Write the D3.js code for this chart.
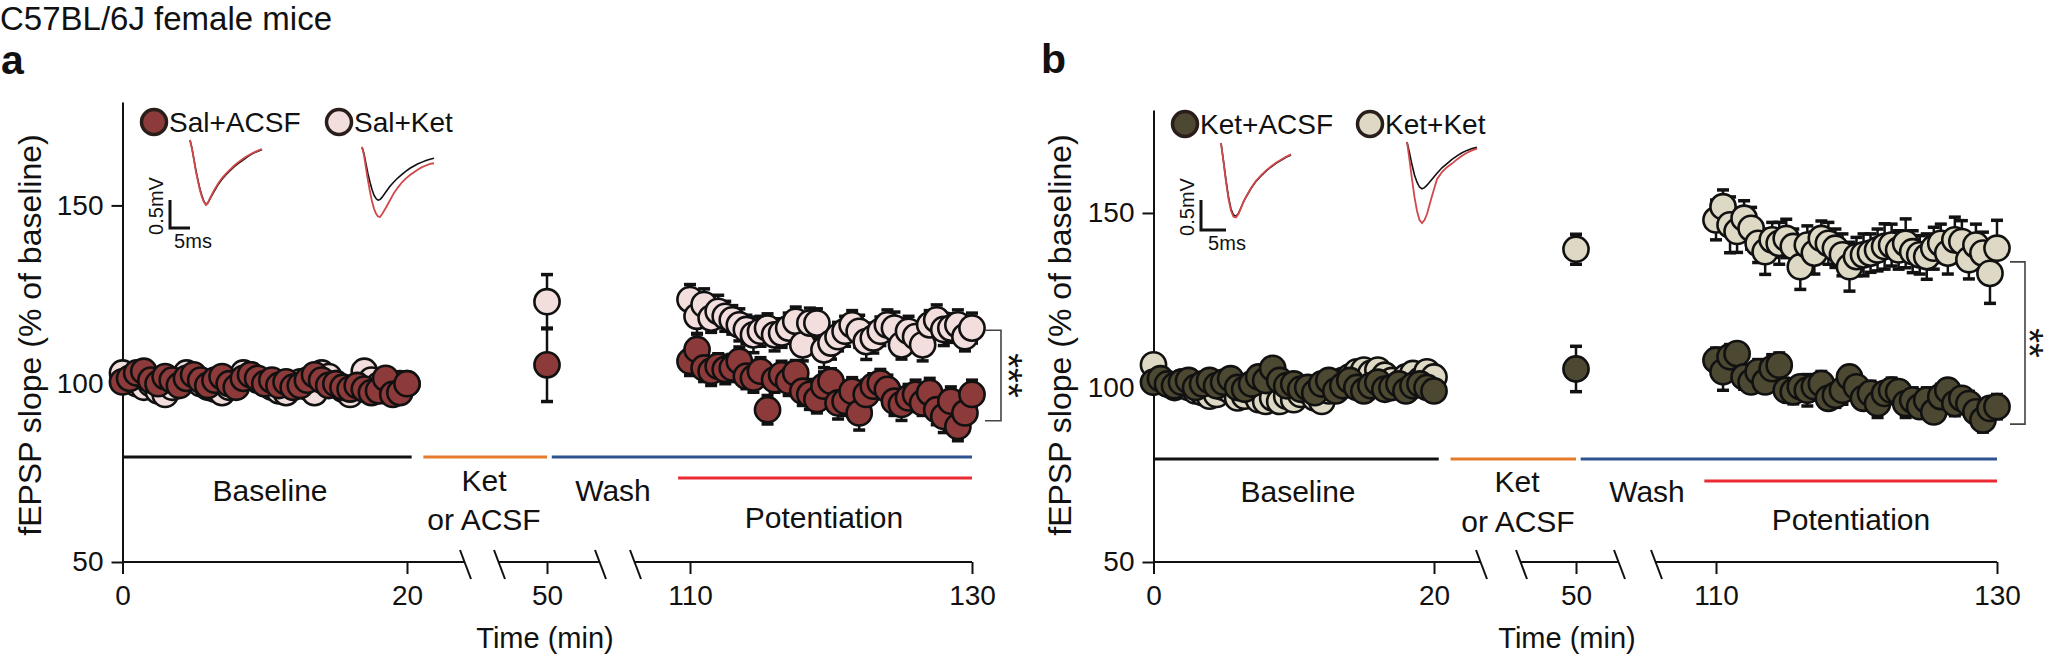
<!DOCTYPE html>
<html>
<head>
<meta charset="utf-8">
<script src="https://cdn.jsdelivr.net/npm/d3@7"></script>
<style>
  body { margin: 0; background: #fff; }
  svg { display: block; }
  text { font-family: "Liberation Sans", Arial, sans-serif; fill: #111; }
</style>
</head>
<body>
<div id="chart"></div>
<script>
// ---- data -------------------------------------------------------------
const xTicks = [0, 20, 50, 110, 130];
const yTicks = [50, 100, 150];

const baselineMin = [0, 0.5, 1, 1.5, 2, 2.5, 3, 3.5, 4, 4.5, 5, 5.5, 6, 6.5, 7, 7.5, 8, 8.5, 9, 9.5,
  10, 10.5, 11, 11.5, 12, 12.5, 13, 13.5, 14, 14.5, 15, 15.5, 16, 16.5, 17, 17.5, 18, 18.5, 19, 19.5, 20];
const drugMin = [50];
const potMin = [110, 110.5, 111, 111.5, 112, 112.5, 113, 113.5, 114, 114.5, 115, 115.5, 116, 116.5, 117,
  117.5, 118, 118.5, 119, 119.5, 120, 120.5, 121, 121.5, 122, 122.5, 123, 123.5, 124, 124.5, 125, 125.5,
  126, 126.5, 127, 127.5, 128, 128.5, 129, 129.5, 130];

// panel a
const salAcsfBase = [100.5, 101.5, 103, 103.5, 101, 100, 102, 101, 99.5, 101.5, 102.5, 101, 99.5, 101, 102,
  100, 99, 101.5, 102.5, 101.5, 100, 101, 99.5, 100.5, 99, 99.5, 101, 102.5, 101, 99.5, 100, 99, 98.5, 99.5,
  98.5, 97.5, 98, 101.5, 97, 97.5, 100];
const salKetBase = [103, 101, 100, 99, 100, 98, 97, 99, 101, 103, 102, 100, 99, 98.5, 97.5, 99, 101, 103,
  102.5, 101, 100, 99, 98, 97.5, 99, 100.5, 99, 97.5, 103, 102, 100, 98.5, 97, 99, 103.5, 101, 99.5, 98, 99,
  100, 100];
const salAcsfDrug = [105.3], salAcsfDrugSem = [10.3];
const salKetDrug = [123], salKetDrugSem = [7.6];
const salAcsfPot = [106.3, 109.6, 104.4, 103.5, 104.9, 104.0, 104.4, 106.3, 102.1, 101.6, 103.5, 92.7, 101.1,
  102.5, 100.7, 103.0, 97.9, 97.0, 95.6, 99.3, 100.7, 94.6, 95.1, 97.9, 91.8, 97.0, 99.3, 100.2, 98.4, 95.1,
  94.2, 96.0, 97.0, 94.6, 97.5, 92.7, 90.8, 95.1, 88.0, 91.8, 97.0];
const salAcsfPotSem = [4, 4.5, 3.8, 4, 3.5, 4, 3.8, 4, 3.5, 4, 3.8, 4, 3.5, 3.8, 4, 3.5, 4, 4.2, 3.8, 4, 3.5,
  4.5, 4, 3.8, 4.8, 4, 3.5, 3.8, 4, 4, 4.5, 3.8, 4, 3.5, 4, 4.2, 4.5, 4, 4, 4.5, 4];
const salKetPot = [123.6, 118.9, 122.2, 118.4, 120.3, 118.9, 117.9, 116.5, 115.2, 113.7, 114.7, 115.6, 113.7,
  114.2, 115.6, 117.5, 110.9, 117.0, 117.0, 109.5, 111.4, 113.2, 114.7, 116.5, 114.7, 111.8, 112.8, 114.7,
  116.5, 115.6, 110.9, 114.7, 113.2, 110.9, 116.5, 117.9, 115.2, 115.6, 116.5, 113.2, 115.6];
const salKetPotSem = [4.2, 5, 4.4, 4, 4.5, 4.2, 4, 4.5, 4, 5, 4.2, 4, 4.5, 4, 4.2, 4, 4.5, 4.2, 4, 5, 4.5, 4,
  4.2, 4, 4.5, 5, 4.2, 4, 4.2, 4.5, 4, 4.2, 4, 4.5, 4, 4.2, 4.5, 4, 4.2, 4, 4.2];

// panel b
const ketAcsfBase = [101.5, 102.5, 101, 100.5, 101.5, 102, 100, 101, 102, 100.5, 101.5, 102.5, 100, 99.5, 101,
  103, 102, 105.5, 102, 100.5, 101, 99.5, 100, 98.5, 101, 102, 99, 100.5, 102, 100, 99, 100.5, 101.5, 99.5,
  100, 101, 99, 100.5, 101, 100, 99];
const ketKetBase = [106.5, 102, 101, 100, 101.5, 100, 99, 98.5, 97.5, 98, 100, 99, 97, 97.5, 99, 96.5, 96, 97,
  96, 97.5, 96.5, 98, 99, 97, 96, 99, 101, 102, 103, 104.5, 105, 104, 105, 103.5, 102, 101, 103, 104, 102,
  104.5, 103];
const ketAcsfDrug = [105.3], ketAcsfDrugSem = [6.5];
const ketKetDrug = [139.6], ketKetDrugSem = [4.3];
const ketAcsfPot = [107.8, 104.5, 108.8, 109.7, 103.0, 101.6, 104.5, 101.6, 105.4, 106.4, 99.2, 98.8, 100.2,
  99.2, 100.2, 101.1, 96.9, 97.8, 99.2, 103.0, 100.2, 96.9, 98.3, 95.4, 98.3, 99.2, 98.8, 95.4, 96.4, 94.5,
  96.4, 93.0, 97.4, 99.2, 95.4, 96.9, 95.4, 93.0, 90.7, 94.0, 94.5];
const ketAcsfPotSem = [3.5, 5.3, 3.5, 3, 3.5, 3, 3.5, 3, 4, 3.5, 3, 3.5, 3, 4.5, 3, 3.5, 3, 3.5, 4, 3, 3.5, 3,
  3.5, 4, 3, 3.5, 3, 4, 3.5, 3, 3.5, 3, 3.5, 3, 3.5, 3, 3.5, 3, 3.5, 3, 3.5];
const ketKetPot = [148.0, 151.8, 146.6, 144.7, 148.5, 145.6, 141.3, 138.9, 142.3, 141.3, 142.7, 140.4, 134.6,
  140.8, 138.5, 142.7, 141.3, 139.9, 138.0, 134.6, 137.5, 138.0, 138.5, 139.4, 140.4, 140.8, 139.4, 141.3,
  138.9, 138.0, 137.5, 139.9, 141.3, 138.5, 142.3, 141.8, 136.6, 140.8, 138.5, 132.7, 139.9];
const ketKetPotSem = [5.7, 4.8, 8, 6, 5, 6, 5.5, 6.5, 5, 6, 5.5, 5, 6.5, 5.5, 6, 5, 6, 5.5, 6, 7, 5.5, 6, 5.5,
  6, 6.5, 6, 5.5, 7, 6, 5.5, 6.5, 6, 5.5, 6, 6.5, 6, 5.5, 6, 6, 8.6, 8];

// example fEPSP traces (ms, mV): black = baseline, red = after
const traceMsA = [0, 0.5, 1, 1.5, 2, 2.5, 3, 3.5, 4, 4.5, 5, 6, 7, 8, 9, 10, 11, 12, 13, 14, 15, 16, 17, 18];
const traceA1Black = [0, -0.15, -0.35, -0.55, -0.72, -0.88, -1.0, -1.1, -1.15, -1.12, -1.05, -0.92, -0.8,
  -0.7, -0.62, -0.55, -0.48, -0.42, -0.37, -0.32, -0.27, -0.23, -0.2, -0.17];
const traceA1Red = [0, -0.16, -0.36, -0.57, -0.74, -0.9, -1.02, -1.11, -1.16, -1.12, -1.04, -0.9, -0.78,
  -0.68, -0.6, -0.53, -0.46, -0.4, -0.35, -0.3, -0.26, -0.22, -0.19, -0.16];
const traceA2Black = [0, -0.12, -0.3, -0.48, -0.63, -0.76, -0.86, -0.92, -0.95, -0.94, -0.9, -0.8, -0.7,
  -0.62, -0.55, -0.49, -0.43, -0.38, -0.34, -0.3, -0.27, -0.24, -0.22, -0.2];
const traceA2Red = [0, -0.15, -0.38, -0.6, -0.8, -0.97, -1.1, -1.19, -1.24, -1.25, -1.2, -1.08, -0.95, -0.82,
  -0.72, -0.63, -0.56, -0.5, -0.45, -0.4, -0.36, -0.33, -0.3, -0.29];
const traceMsB = [0, 0.5, 1, 1.5, 2, 2.5, 3, 3.5, 4, 4.5, 5, 6, 7, 8, 9, 10, 11, 12, 13, 14];
const traceB1Black = [0, -0.3, -0.62, -0.9, -1.1, -1.2, -1.22, -1.17, -1.08, -0.98, -0.9, -0.76, -0.64, -0.55,
  -0.47, -0.4, -0.34, -0.29, -0.24, -0.2];
const traceB1Red = [0, -0.32, -0.65, -0.93, -1.13, -1.23, -1.24, -1.18, -1.08, -0.98, -0.9, -0.75, -0.63, -0.54,
  -0.46, -0.39, -0.33, -0.28, -0.23, -0.19];
const traceB2Black = [0, -0.18, -0.38, -0.55, -0.67, -0.75, -0.78, -0.76, -0.72, -0.67, -0.62, -0.52, -0.43,
  -0.36, -0.29, -0.23, -0.18, -0.14, -0.11, -0.09];
const traceB2Red = [0, -0.3, -0.62, -0.92, -1.15, -1.3, -1.35, -1.3, -1.2, -1.05, -0.9, -0.62, -0.5, -0.42,
  -0.36, -0.29, -0.23, -0.18, -0.14, -0.11];

// experiment periods (min)
const periods = [
  {from: 0, to: 21, color: '#111111', row: 0},
  {from: 23.5, to: 50, color: '#e57a2c', row: 0},
  {from: 52, to: 130, color: '#2f5390', row: 0},
  {from: 105, to: 130, color: '#ec2a33', row: 1}
];

// ---- layout -----------------------------------------------------------
const W = 2056, H = 664;
const FONT = '"Liberation Sans", Arial, sans-serif';
const R = 12.6;

const svg = d3.select('#chart').append('svg')
  .attr('width', W).attr('height', H)
  .attr('viewBox', `0,0,${W},${H}`);

svg.append('text').attr('x', 0).attr('y', 30)
  .attr('font-size', 33).text('C57BL/6J female mice');

const panels = [
  {
    letter: 'a', letterX: 1, letterY: 74,
    xRange: [122.5, 407, 547, 690, 972],
    yRange: [562, 102], yTop: 179,
    gaps: [[465, 499], [600, 635]],
    yLabelX: 41,
    periodRows: [457, 478],
    labels: [
      {t: 'Baseline', x: 270, y: 501}, {t: 'Ket', x: 484, y: 491}, {t: 'or ACSF', x: 484, y: 530},
      {t: 'Wash', x: 613, y: 501}, {t: 'Potentiation', x: 824, y: 528}
    ],
    timeX: 545,
    light: {name: 'Sal+Ket', fill: '#f3dede', base: salKetBase, drug: salKetDrug, drugSem: salKetDrugSem,
      pot: salKetPot, potSem: salKetPotSem},
    dark: {name: 'Sal+ACSF', fill: '#8c3a3a', base: salAcsfBase, drug: salAcsfDrug, drugSem: salAcsfDrugSem,
      pot: salAcsfPot, potSem: salAcsfPotSem},
    legend: [{x: 154, key: 'dark'}, {x: 339, key: 'light'}], legendY: 122,
    bracket: {x: 985, w: 16, top: 115, bottom: 89.6, text: '***', sx: 1017},
    traces: {msPx: 4, mvPx: 56, items: [
      {x: 190, y: 140, black: traceA1Black, red: traceA1Red},
      {x: 362, y: 147, black: traceA2Black, red: traceA2Red}], ms: traceMsA,
      bar: {x: 170, y: 228}, mvLabelX: 163, msLabelX: 193}
  },
  {
    letter: 'b', letterX: 1041, letterY: 73,
    xRange: [1153.5, 1434, 1576, 1716, 1997],
    yRange: [562, 110], yTop: 179.5,
    gaps: [[1481, 1521], [1619, 1656]],
    yLabelX: 1071,
    periodRows: [459, 481],
    labels: [
      {t: 'Baseline', x: 1298, y: 502}, {t: 'Ket', x: 1517, y: 492}, {t: 'or ACSF', x: 1518, y: 532},
      {t: 'Wash', x: 1647, y: 502}, {t: 'Potentiation', x: 1851, y: 530}
    ],
    timeX: 1567,
    light: {name: 'Ket+Ket', fill: '#ddd9c4', base: ketKetBase, drug: ketKetDrug, drugSem: ketKetDrugSem,
      pot: ketKetPot, potSem: ketKetPotSem},
    dark: {name: 'Ket+ACSF', fill: '#4d4832', base: ketAcsfBase, drug: ketAcsfDrug, drugSem: ketAcsfDrugSem,
      pot: ketAcsfPot, potSem: ketAcsfPotSem},
    legend: [{x: 1185, key: 'dark'}, {x: 1370, key: 'light'}], legendY: 124,
    bracket: {x: 2010, w: 15, top: 136, bottom: 89.5, text: '**', sx: 2038},
    traces: {msPx: 5, mvPx: 60, items: [
      {x: 1221, y: 143, black: traceB1Black, red: traceB1Red},
      {x: 1407, y: 142, black: traceB2Black, red: traceB2Red}], ms: traceMsB,
      bar: {x: 1201, y: 230}, mvLabelX: 1194, msLabelX: 1227}
  }
];

function drawPanel(p) {
  const x = d3.scaleLinear().domain(xTicks).range(p.xRange);
  const y = d3.scaleLinear().domain([50, p.yTop]).range(p.yRange);
  const g = svg.append('g');

  g.append('text').attr('x', p.letterX).attr('y', p.letterY)
    .attr('font-size', 41).attr('font-weight', 'bold').text(p.letter);

  // y axis
  g.append('g')
    .attr('transform', `translate(${p.xRange[0]},0)`)
    .call(d3.axisLeft(y).tickValues(yTicks).tickSize(11).tickSizeOuter(0).tickPadding(8))
    .call(s => s.select('.domain').attr('stroke', '#111').attr('stroke-width', 2))
    .call(s => s.selectAll('.tick line').attr('stroke', '#111').attr('stroke-width', 2))
    .call(s => s.selectAll('.tick text').attr('font-size', 28).attr('font-family', FONT).attr('fill', '#111'));

  g.append('text')
    .attr('transform', `translate(${p.yLabelX},335) rotate(-90)`)
    .attr('text-anchor', 'middle').attr('font-size', 32)
    .text('fEPSP slope (% of baseline)');

  // x axis, broken
  const y0 = y(50);
  g.append('g')
    .attr('transform', `translate(0,${y0})`)
    .call(d3.axisBottom(x).tickValues(xTicks).tickSize(12).tickSizeOuter(0).tickPadding(11))
    .call(s => s.select('.domain').remove())
    .call(s => s.selectAll('.tick line').attr('stroke', '#111').attr('stroke-width', 2))
    .call(s => s.selectAll('.tick text').attr('font-size', 28).attr('font-family', FONT).attr('fill', '#111'));

  const segs = [[p.xRange[0], p.gaps[0][0]], [p.gaps[0][1], p.gaps[1][0]], [p.gaps[1][1], p.xRange[4]]];
  g.selectAll('line.seg').data(segs).join('line').attr('class', 'seg')
    .attr('x1', d => d[0]).attr('x2', d => d[1]).attr('y1', y0).attr('y2', y0)
    .attr('stroke', '#111').attr('stroke-width', 2);
  g.selectAll('line.brk').data(p.gaps.flat()).join('line').attr('class', 'brk')
    .attr('x1', d => d - 5).attr('y1', y0 - 12).attr('x2', d => d + 6).attr('y2', y0 + 17)
    .attr('stroke', '#111').attr('stroke-width', 2);

  g.append('text').attr('x', p.timeX).attr('y', 648)
    .attr('text-anchor', 'middle').attr('font-size', 29).text('Time (min)');

  // period bars and labels
  g.selectAll('line.period').data(periods).join('line').attr('class', 'period')
    .attr('x1', d => x(d.from)).attr('x2', d => x(d.to))
    .attr('y1', d => p.periodRows[d.row]).attr('y2', d => p.periodRows[d.row])
    .attr('stroke', d => d.color).attr('stroke-width', 3);
  g.selectAll('text.plab').data(p.labels).join('text').attr('class', 'plab')
    .attr('x', d => d.x).attr('y', d => d.y).attr('text-anchor', 'middle')
    .attr('font-size', 30).text(d => d.t);

  // error bars + dots
  function series(s) {
    const pts = [];
    baselineMin.forEach((m, i) => pts.push({m, v: s.base[i], e: 0}));
    drugMin.forEach((m, i) => pts.push({m, v: s.drug[i], e: s.drugSem[i]}));
    potMin.forEach((m, i) => pts.push({m, v: s.pot[i], e: s.potSem[i]}));
    const sg = g.append('g');
    const eb = sg.append('g').selectAll('g').data(pts.filter(d => d.e > 0)).join('g')
      .attr('stroke', '#111').attr('stroke-width', 2.5);
    eb.append('line').attr('x1', d => x(d.m)).attr('x2', d => x(d.m))
      .attr('y1', d => y(d.v - d.e)).attr('y2', d => y(d.v + d.e));
    eb.append('line').attr('x1', d => x(d.m) - 6).attr('x2', d => x(d.m) + 6)
      .attr('y1', d => y(d.v + d.e)).attr('y2', d => y(d.v + d.e)).attr('stroke-width', 3.5);
    eb.append('line').attr('x1', d => x(d.m) - 6).attr('x2', d => x(d.m) + 6)
      .attr('y1', d => y(d.v - d.e)).attr('y2', d => y(d.v - d.e)).attr('stroke-width', 3.5);
    sg.append('g').selectAll('circle').data(pts).join('circle')
      .attr('cx', d => x(d.m)).attr('cy', d => y(d.v)).attr('r', R)
      .attr('fill', s.fill).attr('stroke', '#111').attr('stroke-width', 2.6);
  }
  series(p.light);
  series(p.dark);

  // significance bracket; stars rotated so they read top to bottom
  const b = p.bracket;
  const yTop = y(b.top), yBot = y(b.bottom), mid = (yTop + yBot) / 2;
  g.append('path')
    .attr('d', `M${b.x},${yTop}H${b.x + b.w}V${yBot}H${b.x}`)
    .attr('fill', 'none').attr('stroke', '#444').attr('stroke-width', 1.6);
  g.append('text')
    .attr('transform', `translate(${b.sx - 22},${mid}) rotate(90)`)
    .attr('text-anchor', 'middle').attr('font-size', 38)
    .attr('font-family', '"DejaVu Sans", sans-serif').attr('fill', '#333').text(b.text);

  // legend
  const lg = g.selectAll('g.leg').data(p.legend).join('g').attr('class', 'leg')
    .attr('transform', d => `translate(${d.x},${p.legendY})`);
  lg.append('circle').attr('r', 12.5).attr('fill', d => p[d.key].fill)
    .attr('stroke', '#2a1e1a').attr('stroke-width', 3.5);
  lg.append('text').attr('x', 15).attr('y', 10).attr('font-size', 28).text(d => p[d.key].name);

  // inset traces
  const t = p.traces;
  t.items.forEach(it => {
    const tx = d3.scaleLinear().domain([0, 1]).range([it.x, it.x + t.msPx]);
    const ty = d3.scaleLinear().domain([0, -1]).range([it.y, it.y + t.mvPx]);
    const line = d3.line().x((d, i) => tx(t.ms[i])).y(d => ty(d));
    g.append('path').attr('d', line(it.black)).attr('fill', 'none')
      .attr('stroke', '#111').attr('stroke-width', 1.6);
    g.append('path').attr('d', line(it.red)).attr('fill', 'none')
      .attr('stroke', '#d2474a').attr('stroke-width', 1.8);
  });
  const bar = t.bar;
  g.append('path')
    .attr('d', `M${bar.x},${bar.y - 0.5 * t.mvPx}V${bar.y}H${bar.x + 5 * t.msPx}`)
    .attr('fill', 'none').attr('stroke', '#111').attr('stroke-width', 3);
  g.append('text')
    .attr('transform', `translate(${t.mvLabelX},${bar.y - 0.25 * t.mvPx - 8}) rotate(-90)`)
    .attr('text-anchor', 'middle').attr('font-size', 20).text('0.5mV');
  g.append('text').attr('x', t.msLabelX).attr('y', bar.y + 20)
    .attr('text-anchor', 'middle').attr('font-size', 20).text('5ms');
}

panels.forEach(drawPanel);
</script>
</body>
</html>
